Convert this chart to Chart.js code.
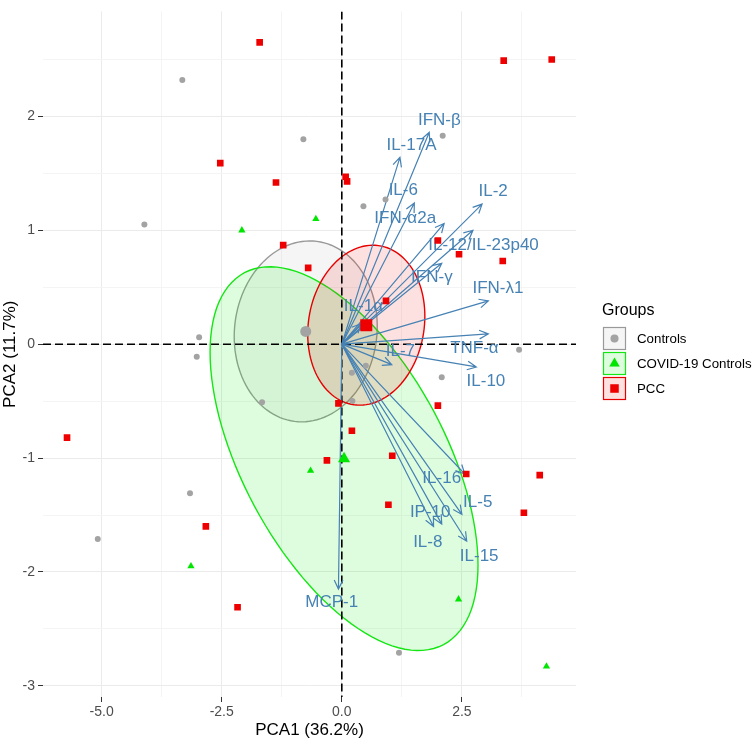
<!DOCTYPE html>
<html>
<head>
<meta charset="utf-8">
<script src="https://cdn.jsdelivr.net/npm/chart.js@4.4.0/dist/chart.umd.min.js"></script>
<style>
  html, body { margin: 0; padding: 0; background: #fff; }
  #wrap { width: 755px; height: 741px; }
</style>
</head>
<body>
<div id="wrap"><canvas id="biplot" width="755" height="741"></canvas></div>
<script>
// groups
const groupNames = ['Controls', 'COVID-19 Controls', 'PCC'];

// individual scores (PCA1, PCA2)
const controlsX = [-3.32, -0.80, 0.45, 0.91, 2.10, -4.11, -2.97, -3.02, 3.69, 2.08, 0.21, 0.50, 0.22, -1.66, -3.16, -5.08, 1.19];
const controlsY = [2.32, 1.80, 1.21, 1.27, 1.83, 1.05, 0.06, -0.11, -0.05, -0.29, -0.25, -0.19, -0.50, -0.51, -1.31, -1.71, -2.71];

const covidX = [-2.08, -0.54, -0.65, -3.14, 2.43, 4.26];
const covidY = [1.00, 1.10, -1.11, -1.95, -2.24, -2.83];

const pccX = [-1.71, -2.53, -1.37, 0.08, 0.11, -1.22, -0.70, 3.37, 4.37, 2.00, 2.44, 3.35, 0.92, -0.07, 2.00, -5.72, 0.21, -0.31, -2.83, -2.17, 1.05, 2.59, 4.12, 0.97, 3.79];
const pccY = [2.65, 1.59, 1.42, 1.47, 1.43, 0.87, 0.67, 2.49, 2.50, 0.91, 0.79, 0.73, 0.38, -0.52, -0.54, -0.82, -0.76, -1.02, -1.60, -2.31, -0.98, -1.14, -1.15, -1.41, -1.48];

// variable loadings (arrow tips) and where their labels sit
const variables = ['IFN-β', 'IL-17A', 'IL-6', 'IFN-α2a', 'IL-2', 'IL-12/IL-23p40', 'IFN-γ', 'IFN-λ1', 'IL-1α', 'TNF-α', 'IL-7', 'IL-10', 'IL-16', 'IL-5', 'IP-10', 'IL-8', 'IL-15', 'MCP-1'];
const loadX = [1.82, 1.21, 1.51, 2.13, 2.92, 2.73, 2.08, 3.05, 0.40, 3.05, 1.04, 2.80, 2.56, 2.50, 2.08, 1.91, 2.60, -0.07];
const loadY = [1.86, 1.64, 1.24, 1.06, 1.23, 1.00, 0.71, 0.38, 0.18, 0.09, -0.18, -0.20, -1.14, -1.495, -1.58, -1.60, -1.73, -2.15];
const labelX = [2.03, 1.45, 1.28, 1.32, 3.15, 2.95, 1.875, 3.25, 0.45, 2.76, 1.22, 3.00, 2.08, 2.83, 1.84, 1.79, 2.86, -0.21];
const labelY = [1.97, 1.745, 1.35, 1.105, 1.34, 0.865, 0.59, 0.49, 0.33, -0.04, -0.06, -0.325, -1.18, -1.39, -1.48, -1.74, -1.86, -2.27];

// axis ticks
const xTicks = [-5, -2.5, 0, 2.5];
const xGrid = [-5, -3.75, -2.5, -1.25, 0, 1.25, 2.5, 3.75];
const yTicks = [-3, -2, -1, 0, 1, 2];
const yGrid = [-3, -2.5, -2, -1.5, -1, -0.5, 0, 0.5, 1, 1.5, 2, 2.5];

const pointColors = ['#a3a3a3', '#00e600', '#ee0000'];
const lineColors = ['#999999', '#14e614', '#e60000'];
const fillColors = ['rgba(160,160,160,0.11)', 'rgba(0,230,0,0.13)', 'rgba(238,0,0,0.12)'];
const arrowColor = '#4682b4';
const FONT = "'Liberation Sans', Arial, sans-serif";

const groupsX = [controlsX, covidX, pccX];
const groupsY = [controlsY, covidY, pccY];

function mean(a) { return a.reduce((s, v) => s + v, 0) / a.length; }

// 95% confidence ellipse of the group mean
function confEllipse(xs, ys) {
  const n = xs.length, mx = mean(xs), my = mean(ys);
  let sxx = 0, syy = 0, sxy = 0;
  for (let i = 0; i < n; i++) {
    sxx += (xs[i] - mx) ** 2;
    syy += (ys[i] - my) ** 2;
    sxy += (xs[i] - mx) * (ys[i] - my);
  }
  sxx /= (n - 1) * n; syy /= (n - 1) * n; sxy /= (n - 1) * n;
  const t = Math.sqrt(5.991465);
  const a = Math.sqrt(sxx), b = sxy / a, c = Math.sqrt(syy - b * b);
  const pts = [];
  for (let k = 0; k <= 120; k++) {
    const th = k / 120 * 2 * Math.PI;
    pts.push({ x: mx + t * a * Math.cos(th), y: my + t * (b * Math.cos(th) + c * Math.sin(th)) });
  }
  return pts;
}

const overlay = {
  id: 'overlay',
  beforeDatasetsDraw(chart) {
    const ctx = chart.ctx, xs = chart.scales.x, ys = chart.scales.y, area = chart.chartArea;
    ctx.save();
    ctx.beginPath();
    ctx.rect(area.left, area.top, area.right - area.left, area.bottom - area.top);
    ctx.clip();
    // ellipses
    for (let g = 0; g < 3; g++) {
      const pts = confEllipse(groupsX[g], groupsY[g]);
      ctx.beginPath();
      pts.forEach((p, i) => {
        const px = xs.getPixelForValue(p.x), py = ys.getPixelForValue(p.y);
        if (i === 0) ctx.moveTo(px, py); else ctx.lineTo(px, py);
      });
      ctx.closePath();
      ctx.fillStyle = fillColors[g];
      ctx.fill();
      ctx.strokeStyle = lineColors[g];
      ctx.lineWidth = 1.4;
      ctx.stroke();
    }
    // dashed zero lines
    ctx.setLineDash([8, 4]);
    ctx.strokeStyle = '#000';
    ctx.lineWidth = 1.6;
    const x0 = xs.getPixelForValue(0), y0 = ys.getPixelForValue(0);
    ctx.beginPath();
    ctx.moveTo(area.left, y0); ctx.lineTo(area.right, y0);
    ctx.moveTo(x0, area.top); ctx.lineTo(x0, area.bottom);
    ctx.stroke();
    ctx.setLineDash([]);
    // arrows
    ctx.strokeStyle = arrowColor;
    ctx.lineWidth = 1.2;
    for (let i = 0; i < variables.length; i++) {
      const tx = xs.getPixelForValue(loadX[i]), ty = ys.getPixelForValue(loadY[i]);
      const ang = Math.atan2(ty - y0, tx - x0);
      ctx.beginPath();
      ctx.moveTo(x0, y0); ctx.lineTo(tx, ty);
      ctx.moveTo(tx - 10 * Math.cos(ang - 0.45), ty - 10 * Math.sin(ang - 0.45));
      ctx.lineTo(tx, ty);
      ctx.lineTo(tx - 10 * Math.cos(ang + 0.45), ty - 10 * Math.sin(ang + 0.45));
      ctx.stroke();
    }
    // labels
    ctx.fillStyle = arrowColor;
    ctx.font = '17px ' + FONT;
    ctx.textAlign = 'center';
    ctx.textBaseline = 'middle';
    for (let i = 0; i < variables.length; i++) {
      ctx.fillText(variables[i], xs.getPixelForValue(labelX[i]), ys.getPixelForValue(labelY[i]));
    }
    ctx.restore();
  },
  afterDraw(chart) {
    // legend
    const ctx = chart.ctx;
    ctx.save();
    ctx.font = '16px ' + FONT;
    ctx.fillStyle = '#000';
    ctx.textAlign = 'left';
    ctx.textBaseline = 'middle';
    ctx.fillText('Groups', 602, 311);
    const styles = ['circle', 'triangle', 'rect'];
    for (let g = 0; g < 3; g++) {
      const bx = 603, by = 327 + g * 25;
      ctx.fillStyle = '#fff';
      ctx.fillRect(bx, by, 23, 23);
      ctx.fillStyle = fillColors[g];
      ctx.fillRect(bx, by, 23, 23);
      ctx.strokeStyle = lineColors[g];
      ctx.lineWidth = 1.2;
      ctx.strokeRect(bx + 0.5, by + 0.5, 22, 22);
      Chart.helpers.drawPoint(ctx, { pointStyle: styles[g], radius: g === 0 ? 4 : 6, rotation: 0, borderWidth: 0 }, bx + 11.5, by + 11.5);
      ctx.fillStyle = pointColors[g];
      ctx.fill();
      ctx.fillStyle = '#000';
      ctx.font = '13.3px ' + FONT;
      ctx.fillText(groupNames[g], 637, by + 12);
    }
    ctx.restore();
  }
};

Chart.defaults.font.family = FONT;

function pts(xs, ys) { return xs.map((x, i) => ({ x: x, y: ys[i] })); }

const pointStyles = ['circle', 'triangle', 'rect'];
const pointSizes = [3, 4.2, 4.7];
const meanSizes = [5.5, 7, 8.5];
const datasets = [];
for (let g = 2; g >= 0; g--) {
  datasets.push({
    label: groupNames[g] + ' mean',
    data: [{ x: mean(groupsX[g]), y: mean(groupsY[g]) }],
    pointStyle: pointStyles[g], pointRadius: meanSizes[g],
    backgroundColor: pointColors[g], borderWidth: 0, showLine: false
  });
  datasets.push({
    label: groupNames[g],
    data: pts(groupsX[g], groupsY[g]),
    pointStyle: pointStyles[g], pointRadius: pointSizes[g],
    backgroundColor: pointColors[g], borderWidth: 0, showLine: false
  });
}

new Chart(document.getElementById('biplot'), {
  type: 'scatter',
  data: { datasets: datasets },
  options: {
    responsive: false,
    animation: false,
    events: [],
    layout: { padding: { top: 8, right: 179, left: 0, bottom: 0 } },
    plugins: { legend: { display: false }, tooltip: { enabled: false } },
    scales: {
      x: {
        type: 'linear', min: -6.22, max: 4.875,
        afterBuildTicks: axis => { axis.ticks = xGrid.map(v => ({ value: v })); },
        afterFit: axis => { axis.height = 44; },
        ticks: {
          autoSkip: false, maxRotation: 0, padding: 2, color: '#4d4d4d', font: { size: 14 },
          callback: v => xTicks.includes(v) ? v.toFixed(1) : ''
        },
        grid: {
          color: c => xTicks.includes(c.tick.value) ? '#ebebeb' : '#f4f4f4',
          tickColor: c => xTicks.includes(c.tick.value) ? '#333' : 'rgba(0,0,0,0)',
          tickLength: 5, lineWidth: 1
        },
        border: { display: false },
        title: { display: true, text: 'PCA1 (36.2%)', color: '#000', font: { size: 17 }, padding: { top: 0, bottom: 0 } }
      },
      y: {
        type: 'linear', min: -3.098, max: 2.922,
        afterBuildTicks: axis => { axis.ticks = yGrid.map(v => ({ value: v })); },
        afterFit: axis => { axis.width = 43; },
        ticks: {
          autoSkip: false, padding: 3, color: '#4d4d4d', font: { size: 14 },
          callback: v => yTicks.includes(v) ? String(v) : ''
        },
        grid: {
          color: c => yTicks.includes(c.tick.value) ? '#ebebeb' : '#f4f4f4',
          tickColor: c => yTicks.includes(c.tick.value) ? '#333' : 'rgba(0,0,0,0)',
          tickLength: 5, lineWidth: 1
        },
        border: { display: false },
        title: { display: true, text: 'PCA2 (11.7%)', color: '#000', font: { size: 17 }, padding: { top: 0, bottom: 0 } }
      }
    }
  },
  plugins: [overlay]
});
</script>
</body>
</html>
